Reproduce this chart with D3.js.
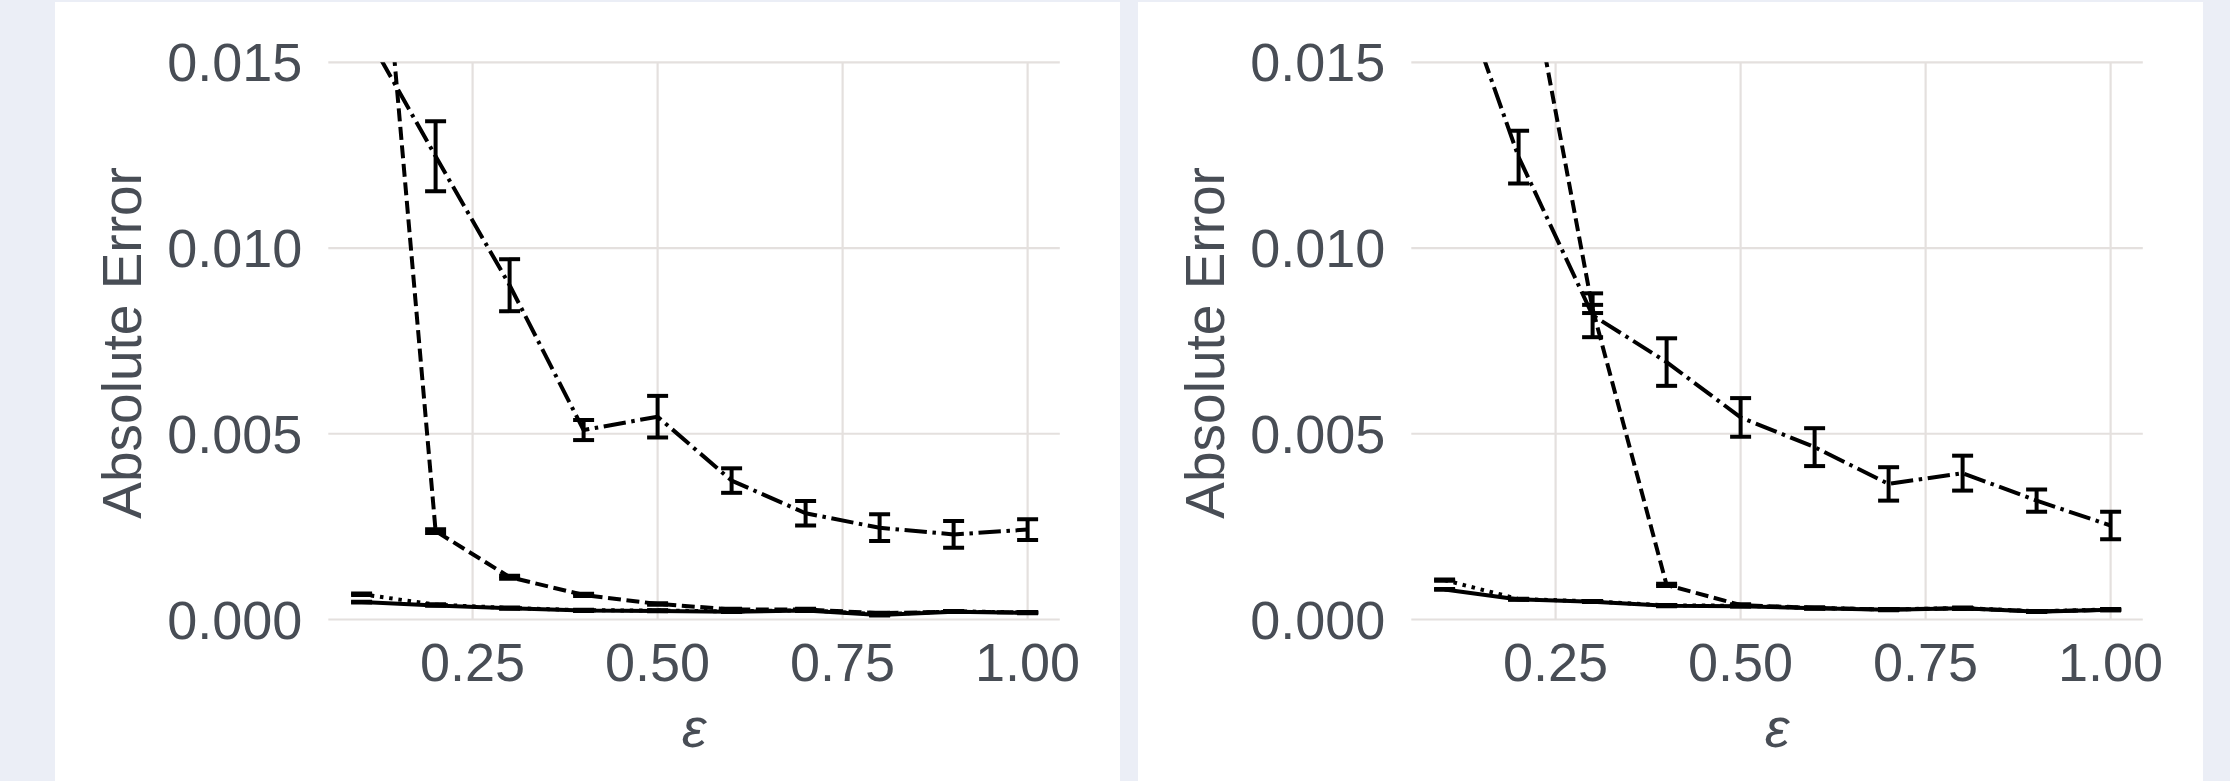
<!DOCTYPE html>
<html>
<head>
<meta charset="utf-8">
<script src="https://cdn.jsdelivr.net/npm/d3@7"></script>
<style>
  html, body { margin: 0; padding: 0; background: #ebeef6; }
  svg { display: block; }
  text { font-family: "Liberation Sans", Arial, sans-serif; fill: #484d55; }
</style>
</head>
<body>
<svg id="chart" width="2230" height="781"></svg>
<script>
// privacy budget values on the x axis
const eps = [0.1, 0.2, 0.3, 0.4, 0.5, 0.6, 0.7, 0.8, 0.9, 1.0];

// axis ticks
const yTicks = [0.000, 0.005, 0.010, 0.015];
const xTicks = [0.25, 0.50, 0.75, 1.00];

// left panel: mean absolute error per method, with error-bar half widths
const solidA   = [0.00047, 0.00038, 0.00030, 0.00024, 0.00023, 0.00021, 0.00024, 0.00012, 0.00021, 0.00018];
const solidErrA = [0.00001, 0.00001, 0.00001, 0.00001, 0.00001, 0.00001, 0.00001, 0.00001, 0.00001, 0.00001];
const dottedA  = [0.00068, 0.00040, 0.00031, 0.00025, 0.00024, 0.00022, 0.00025, 0.00014, 0.00022, 0.00019];
const dottedErrA = [0.00002, 0.00001, 0.00001, 0.00001, 0.00001, 0.00001, 0.00001, 0.00001, 0.00001, 0.00001];
const dashedA  = [0.0252, 0.00238, 0.00114, 0.00066, 0.00042, 0.00027, 0.00027, 0.00017, 0.00021, 0.00019];
const dashedErrA = [0.0004, 0.00005, 0.00004, 0.00003, 0.00002, 0.00002, 0.00002, 0.00001, 0.00001, 0.00001];
const dashdotA = [0.0160, 0.01247, 0.0090, 0.0051, 0.00546, 0.00374, 0.00286, 0.00247, 0.00229, 0.00242];
const dashdotErrA = [0.0007, 0.00094, 0.0007, 0.00027, 0.00056, 0.00033, 0.00033, 0.00036, 0.00036, 0.00028];

// right panel
const solidB   = [0.00081, 0.00054, 0.00048, 0.00037, 0.00036, 0.00030, 0.00026, 0.00030, 0.00021, 0.00026];
const solidErrB = [0.00001, 0.00001, 0.00001, 0.00001, 0.00001, 0.00001, 0.00001, 0.00001, 0.00001, 0.00001];
const dottedB  = [0.00106, 0.00055, 0.00049, 0.00038, 0.00037, 0.00031, 0.00027, 0.00031, 0.00022, 0.00027];
const dottedErrB = [0.00002, 0.00001, 0.00001, 0.00001, 0.00001, 0.00001, 0.00001, 0.00001, 0.00001, 0.00001];
const dashedB  = [0.035, 0.019, 0.00836, 0.00093, 0.00039, 0.00031, 0.00027, 0.00030, 0.00022, 0.00026];
const dashedErrB = [0.0005, 0.0003, 0.00011, 0.00003, 0.00002, 0.00001, 0.00001, 0.00001, 0.00001, 0.00001];
const dashdotB = [0.0181, 0.01245, 0.00819, 0.00693, 0.00544, 0.00464, 0.00365, 0.00394, 0.0032, 0.00253];
const dashdotErrB = [0.0010, 0.00071, 0.00059, 0.00064, 0.00052, 0.00051, 0.00045, 0.00047, 0.0003, 0.00037];

const yLabel = "Absolute Error";
const xLabel = "ε";

// line styles
const LW = 4;
const U = 3.5; // dash unit
const styles = {
  solid:   "",
  dotted:  [1 * U, 1.65 * U].join(","),
  dashed:  [3.7 * U, 1.6 * U].join(","),
  dashdot: [6.4 * U, 1.6 * U, 1 * U, 1.6 * U].join(",")
};

const panels = [
  { left: 55, series: [
      { style: "dotted",  values: dottedA,  err: dottedErrA },
      { style: "solid",   values: solidA,   err: solidErrA },
      { style: "dashed",  values: dashedA,  err: dashedErrA },
      { style: "dashdot", values: dashdotA, err: dashdotErrA }
  ]},
  { left: 1138, series: [
      { style: "dotted",  values: dottedB,  err: dottedErrB },
      { style: "solid",   values: solidB,   err: solidErrB },
      { style: "dashed",  values: dashedB,  err: dashedErrB },
      { style: "dashdot", values: dashdotB, err: dashdotErrB }
  ]}
];

const svg = d3.select("#chart");
const panelW = 1065, panelTop = 2, panelH = 781 - 2;

const x = d3.scaleLinear().domain([0.055, 1.0435]).range([273.3, 1004.8]);
const y = d3.scaleLinear().domain([0, 0.015]).range([619.5, 62.3]);

panels.forEach((p, pi) => {
  const g = svg.append("g").attr("transform", `translate(${p.left},${panelTop})`);
  g.append("rect").attr("width", panelW).attr("height", panelH).attr("fill", "#ffffff");

  const inner = g.append("g").attr("transform", `translate(0,${-panelTop})`);
  const [x0, x1] = x.range();
  const [yb, yt] = y.range();

  // grid
  inner.append("g").selectAll("line.h").data(yTicks).join("line")
    .attr("x1", x0).attr("x2", x1)
    .attr("y1", d => y(d)).attr("y2", d => y(d))
    .attr("stroke", "#e4e0de").attr("stroke-width", 2.2);
  inner.append("g").selectAll("line.v").data(xTicks).join("line")
    .attr("x1", d => x(d)).attr("x2", d => x(d))
    .attr("y1", yt).attr("y2", yb)
    .attr("stroke", "#e4e0de").attr("stroke-width", 2.2);

  // tick labels
  inner.append("g").selectAll("text").data(yTicks).join("text")
    .attr("x", x0 - 26).attr("y", d => y(d))
    .attr("text-anchor", "end").attr("dominant-baseline", "central")
    .attr("font-size", 54)
    .text(d => d3.format(".3f")(d));
  inner.append("g").selectAll("text").data(xTicks).join("text")
    .attr("x", d => x(d)).attr("y", 681)
    .attr("text-anchor", "middle")
    .attr("font-size", 54)
    .text(d => d3.format(".2f")(d));

  // axis titles
  inner.append("text")
    .attr("transform", `translate(86,${(yt + yb) / 2 + 2}) rotate(-90)`)
    .attr("text-anchor", "middle").attr("font-size", 55)
    .text(yLabel);
  inner.append("text")
    .attr("x", (x0 + x1) / 2).attr("y", 747)
    .attr("text-anchor", "middle").attr("font-size", 56).attr("font-style", "italic")
    .text(xLabel);

  // clip to the plotting area
  const clipId = "clip" + pi;
  inner.append("clipPath").attr("id", clipId)
    .append("rect").attr("x", x0).attr("y", yt).attr("width", x1 - x0).attr("height", yb - yt + 40);

  const plot = inner.append("g").attr("clip-path", `url(#${clipId})`);
  const line = d3.line().x((d, i) => x(eps[i])).y(d => y(d));

  p.series.forEach(s => {
    plot.append("path")
      .attr("d", line(s.values))
      .attr("fill", "none").attr("stroke", "#000")
      .attr("stroke-width", LW)
      .attr("stroke-linejoin", "round")
      .attr("stroke-linecap", "butt")
      .attr("stroke-dasharray", styles[s.style] || null);
  });

  // error bars
  p.series.forEach(s => {
    const eb = plot.append("g").attr("stroke", "#000").attr("stroke-width", 4).attr("fill", "none");
    s.values.forEach((v, i) => {
      const cx = x(eps[i]);
      const lo = y(v - s.err[i]), hi = y(v + s.err[i]);
      eb.append("line").attr("x1", cx).attr("x2", cx).attr("y1", lo).attr("y2", hi);
      eb.append("line").attr("x1", cx - 10.5).attr("x2", cx + 10.5).attr("y1", lo).attr("y2", lo);
      eb.append("line").attr("x1", cx - 10.5).attr("x2", cx + 10.5).attr("y1", hi).attr("y2", hi);
    });
  });
});
</script>
</body>
</html>
